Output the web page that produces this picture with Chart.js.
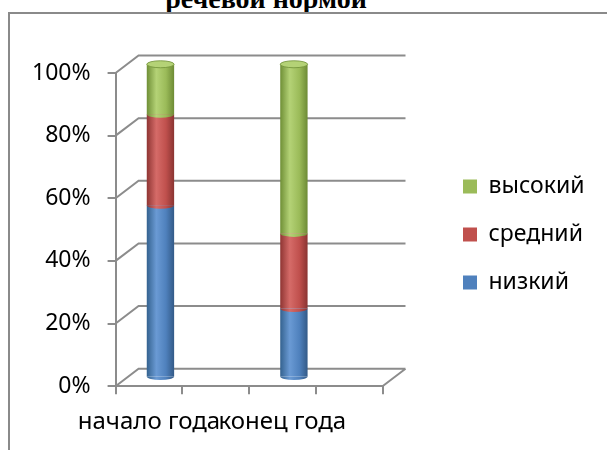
<!DOCTYPE html>
<html>
<head>
<meta charset="utf-8">
<script src="https://cdn.jsdelivr.net/npm/chart.js@4.4.0/dist/chart.umd.min.js"></script>
<style>
  body { margin: 0; background: #fff; width: 607px; height: 450px; overflow: hidden; position: relative; }
  #title { position: absolute; left: 0; top: -17px; width: 532px; text-align: center;
           font: bold 28px "Liberation Serif", serif; color: #000; }
  #frame { position: absolute; left: 8px; top: 12px; width: 640px; height: 480px; border: 2px solid #8a8a8a; }
  #myChart { position: absolute; left: 0; top: 0; }
</style>
</head>
<body>
<div id="title">речевой нормой</div>
<div id="frame"></div>
<canvas id="myChart" width="607" height="450"></canvas>
<script>
// данные диаграммы
const categories = ["начало года", "", "конец года", ""];
const nizkiy = [55, null, 22, null];
const sredniy = [29, null, 24, null];
const vysokiy = [16, null, 54, null];
const yTicks = [0, 20, 40, 60, 80, 100];

const GRID = "#8c8c8c";
const DX = 23, DY = -17.5; // глубина "3D"
const RY = 3.5;
const BAR_PCT = 0.41;

// цвета: тёмный край, светлый, основной, тёмный край
const blue = ["#34628f", "#6a9ad4", "#4f81bd", "#335a87"];
const red = ["#8f3533", "#d56b68", "#c0504d", "#8a3432"];
const green = ["#6f8f36", "#b4d276", "#9bbb59", "#6d8b35"];

function grad(ctx, cx, half, s) {
  const g = ctx.createLinearGradient(cx - half, 0, cx + half, 0);
  g.addColorStop(0, s[0]);
  g.addColorStop(0.35, s[1]);
  g.addColorStop(0.7, s[2]);
  g.addColorStop(1, s[3]);
  return g;
}

function cylFill(s) {
  return function (c) {
    const chart = c.chart;
    const x = chart.scales && chart.scales.x;
    if (!x || !chart.chartArea || c.type !== "data") return s[2];
    const cx = x.getPixelForValue(c.dataIndex);
    const half = (x.width / categories.length) * BAR_PCT / 2;
    return grad(chart.ctx, cx, half, s);
  };
}

const depthPlugin = {
  id: "depth",
  afterLayout(chart) {
    // легенда правее стенки, как в оригинале
    const lg = chart.legend;
    lg.left = 438; lg.right = 607;
    lg.top = 150; lg.bottom = 450;
  },
  beforeDatasetsDraw(chart) {
    const { ctx, chartArea, scales } = chart;
    ctx.save();
    ctx.strokeStyle = GRID;
    ctx.lineWidth = 2;
    ctx.beginPath();
    yTicks.forEach((v) => {
      const y = scales.y.getPixelForValue(v);
      ctx.moveTo(chartArea.left, y);
      ctx.lineTo(chartArea.left + DX, y + DY);
      ctx.lineTo(chartArea.right + DX, y + DY);
    });
    ctx.moveTo(chartArea.right, chartArea.bottom);
    ctx.lineTo(chartArea.right + DX, chartArea.bottom + DY);
    ctx.stroke();
    ctx.restore();
    ctx.save();
    ctx.translate(DX / 2, DY / 2);
  },
  afterDatasetsDraw(chart) {
    const ctx = chart.ctx;
    const sets = chart.data.datasets;
    sets.forEach((ds, i) => {
      const meta = chart.getDatasetMeta(i);
      meta.data.forEach((bar, j) => {
        if (ds.data[j] == null) return;
        const p = bar.getProps(["x", "y", "base", "width"], true);
        const rx = p.width / 2;
        ctx.beginPath();
        ctx.ellipse(p.x, p.base, rx, RY, 0, 0, Math.PI);
        ctx.fillStyle = grad(ctx, p.x, rx, ds.shades);
        ctx.fill();
        if (i === sets.length - 1) {
          ctx.beginPath();
          ctx.ellipse(p.x, p.y, rx, RY, 0, 0, Math.PI * 2);
          ctx.fillStyle = ds.shades[1];
          ctx.fill();
          ctx.strokeStyle = ds.shades[0];
          ctx.lineWidth = 0.8;
          ctx.stroke();
        }
      });
    });
    ctx.restore();
  },
};

Chart.defaults.font.family = "'Noto Sans', sans-serif";
Chart.defaults.color = "#000";

const ctx = document.getElementById("myChart").getContext("2d");
const myChart = new Chart(ctx, {
  type: "bar",
  data: {
    labels: categories,
    datasets: [
      { label: "низкий", data: nizkiy, shades: blue, backgroundColor: cylFill(blue) },
      { label: "средний", data: sredniy, shades: red, backgroundColor: cylFill(red) },
      { label: "высокий", data: vysokiy, shades: green, backgroundColor: cylFill(green) },
    ],
  },
  options: {
    responsive: false,
    animation: false,
    events: [],
    datasets: {
      bar: { barPercentage: BAR_PCT, categoryPercentage: 1, borderWidth: 0, clip: false },
    },
    layout: { padding: { left: 15, top: 73, right: 102, bottom: -1 } },
    scales: {
      x: {
        stacked: true,
        grid: { drawOnChartArea: false, tickLength: 8, color: GRID, lineWidth: 2, offset: true },
        border: { color: GRID, width: 2 },
        ticks: { autoSkip: false, maxRotation: 0, minRotation: 0, padding: 14, font: { size: 24 } },
      },
      y: {
        stacked: true,
        min: 0,
        max: 100,
        afterBuildTicks: (s) => { s.ticks = yTicks.map((v) => ({ value: v })); },
        grid: { drawOnChartArea: false, tickLength: 8, color: GRID, lineWidth: 2 },
        border: { color: GRID, width: 2 },
        ticks: { padding: 17, font: { size: 23 }, callback: (v) => v + "%" },
      },
    },
    plugins: {
      tooltip: { enabled: false },
      legend: {
        position: "right",
        align: "start",
        reverse: true,
        labels: {
          boxWidth: 14,
          boxHeight: 14,
          padding: 25,
          font: { size: 23 },
          generateLabels(chart) {
            const items = Chart.defaults.plugins.legend.labels.generateLabels(chart);
            items.forEach((it) => {
              const s = chart.data.datasets[it.datasetIndex].shades;
              it.fillStyle = s[2];
              it.strokeStyle = s[2];
              it.lineWidth = 0;
            });
            return items;
          },
        },
      },
    },
  },
  plugins: [depthPlugin],
});
</script>
</body>
</html>
